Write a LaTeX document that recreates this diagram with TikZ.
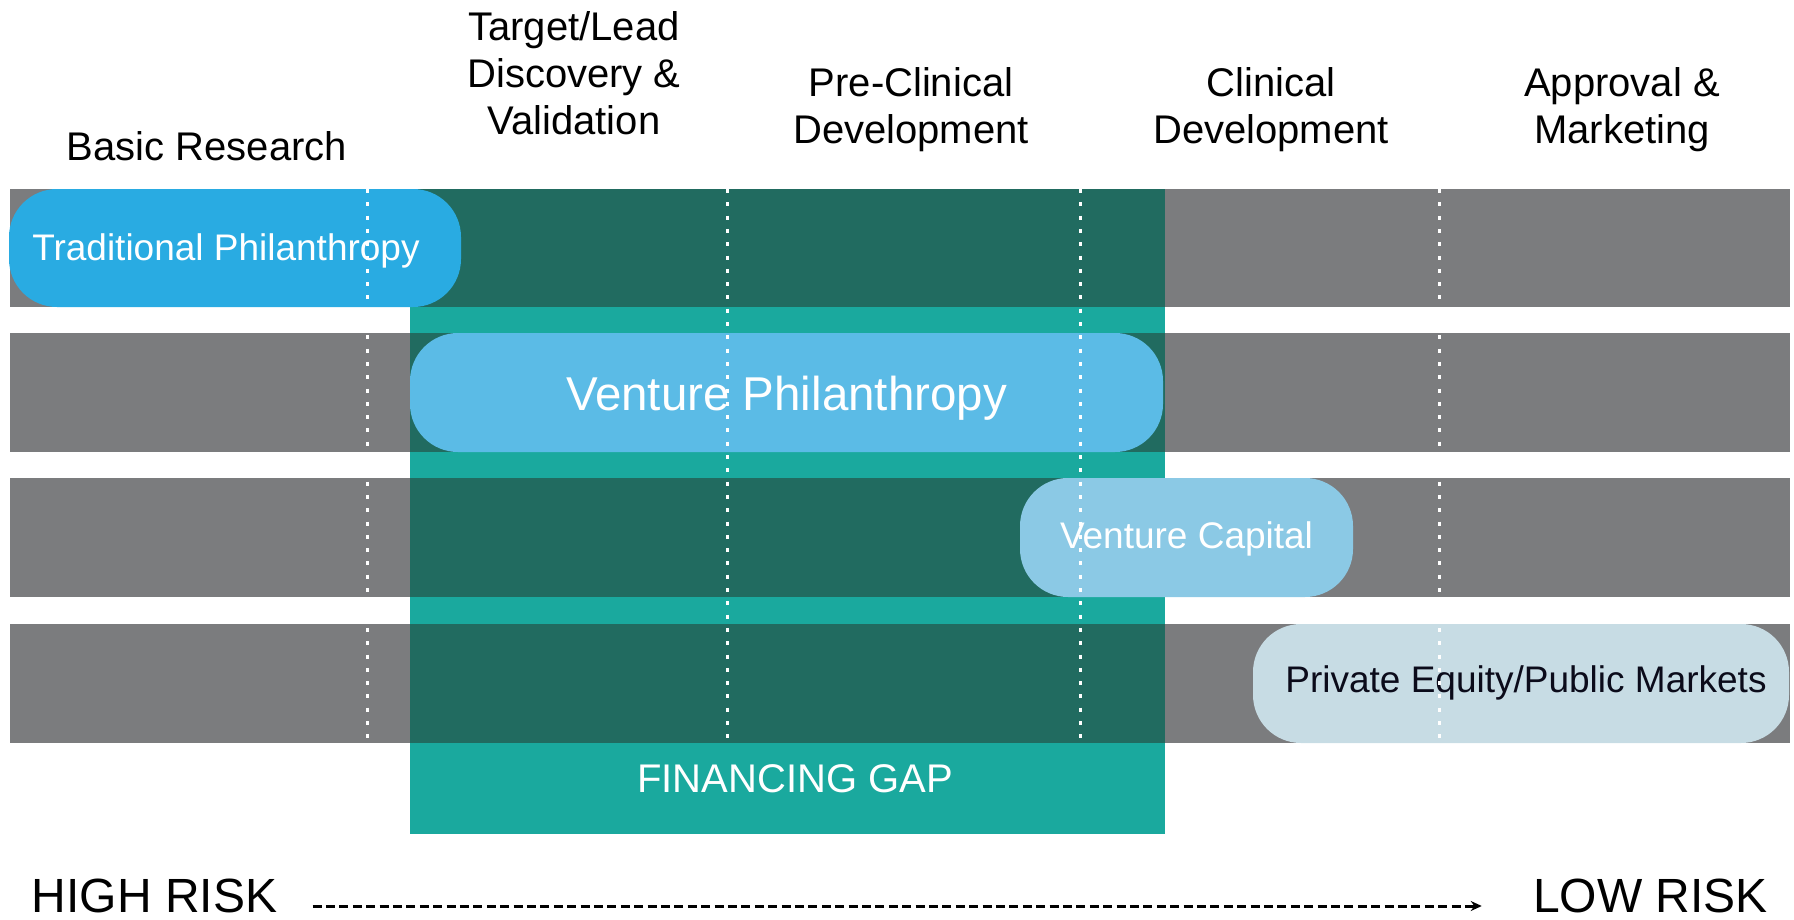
\documentclass[tikz,border=0pt]{standalone}
\usepackage{fontspec}
\setmainfont{Liberation Sans}
\usetikzlibrary{arrows.meta}
\definecolor{bandgray}{HTML}{7B7C7E}
\definecolor{gapdark}{HTML}{216B60}
\definecolor{gapteal}{HTML}{1AA99E}
\definecolor{tpblue}{HTML}{29ABE2}
\definecolor{vpblue}{HTML}{5BBBE6}
\definecolor{vcblue}{HTML}{8BC9E5}
\definecolor{peblue}{HTML}{C7DCE4}
\definecolor{petext}{HTML}{0B0B1A}
\newcommand{\pilltext}[2]{\smash{\raisebox{-#1}{#2}}}
\begin{document}
\begin{tikzpicture}[x=0.5pt,y=-0.5pt,
  band/.style={fill=bandgray},
  overlap/.style={fill=gapdark},
  pill/.style={rounded corners=24pt, inner sep=0pt, minimum height=59.5pt, text=white, font=\fontsize{18.5pt}{22pt}\selectfont},
  header/.style={align=center, inner sep=0pt, font=\fontsize{20pt}{23.5pt}\selectfont},
  risk/.style={inner sep=0pt, font=\fontsize{24pt}{28pt}\selectfont},
  dotline/.style={white, line width=1.5pt, dash pattern=on 2pt off 4.65pt},
  riskarrow/.style={line width=1.5pt, dash pattern=on 4.5pt off 2.2pt, -{Stealth[length=5.5pt,width=5pt]}}
]
\useasboundingbox (0,0) rectangle (1794,920);

% financing gap area
\fill[gapteal] (410,189) rectangle (1165,834);

% bands
\fill[band] (10,189) rectangle (1790,307);
\fill[band] (10,333) rectangle (1790,452);
\fill[band] (10,478) rectangle (1790,597);
\fill[band] (10,624) rectangle (1790,743);

% overlaps of the gap with the bands
\fill[overlap] (410,189) rectangle (1165,307);
\fill[overlap] (410,333) rectangle (1165,452);
\fill[overlap] (410,478) rectangle (1165,597);
\fill[overlap] (410,624) rectangle (1165,743);

% pills
\node[pill, fill=tpblue, minimum width=226pt, minimum height=59pt] (tp) at (235,248) {\hspace*{-9pt}\pilltext{6pt}{Traditional Philanthropy}};
\node[pill, fill=vpblue, minimum width=376.5pt, font=\fontsize{23.75pt}{28pt}\selectfont] (vp) at (786.5,392.5) {\pilltext{8.75pt}{Venture Philanthropy}};
\node[pill, fill=vcblue, minimum width=166.5pt] (vc) at (1186.5,537.5) {\pilltext{5.25pt}{Venture Capital}};
\node[pill, fill=peblue, minimum width=268pt, text=petext] (pe) at (1521,683.5) {\hspace*{5pt}\pilltext{4.25pt}{Private Equity/Public Markets}};

% dotted stage dividers
\foreach \x in {367,727,1080,1439} {
  \draw[dotline] (\x,189) -- (\x,743);
}

% headers
\node[header] (basic) at (207,146) {Basic Research};
\node[header] (target) at (574,73) {Target/Lead\\Discovery \&\\Validation};
\node[header] (precl) at (911,110) {Pre-Clinical\\Development};
\node[header] (clin) at (1271,110) {Clinical\\Development};
\node[header] (appr) at (1622,110) {Approval \&\\Marketing};

\node[header, text=white] (gap) at (795,779) {FINANCING GAP};

% risk axis
\node[risk] (hr) at (154.5,896) {HIGH RISK};
\node[risk] (lr) at (1650.5,896) {LOW RISK};
\draw[riskarrow, shorten <=17.5pt, shorten >=25.5pt] ([yshift=-5pt]hr.east) -- ([yshift=-5pt]lr.west);
\end{tikzpicture}
\end{document}
